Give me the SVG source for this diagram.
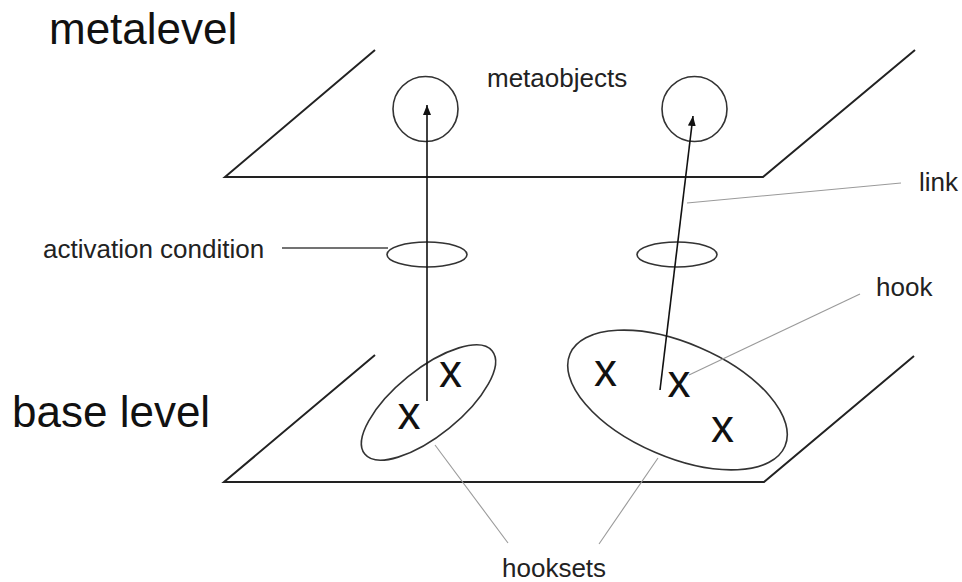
<svg xmlns="http://www.w3.org/2000/svg" width="962" height="582" viewBox="0 0 962 582">
  <defs>
    <marker id="arrow" markerWidth="10" markerHeight="8" refX="10" refY="4" orient="auto" markerUnits="userSpaceOnUse">
      <path d="M0,0 L10,4 L0,8 Z" fill="#111"/>
    </marker>
    <style>
      .plane { fill: none; stroke: #222; stroke-width: 2; stroke-linejoin: miter; }
      .shape { fill: none; stroke: #333; stroke-width: 1.6; }
      .link { fill: none; stroke: #111; stroke-width: 1.6; }
      .leader { fill: none; stroke: #9a9a9a; stroke-width: 1.1; }
      .leader-dark { fill: none; stroke: #444; stroke-width: 1.3; }
      .big { font-family: "Liberation Sans", Arial, sans-serif; font-size: 44px; fill: #111; }
      .label { font-family: "Liberation Sans", Arial, sans-serif; font-size: 26px; fill: #222; }
      .hookmark { font-family: "Liberation Sans", Arial, sans-serif; font-size: 46px; fill: #111; text-anchor: middle; }
    </style>
  </defs>
  <rect width="962" height="582" fill="#fff"/>

  <!-- level planes -->
  <g id="metalevel-plane">
    <polyline class="plane" points="375,50 225,177 763,177 915,50"/>
    <text class="big" x="49" y="44">metalevel</text>
  </g>
  <g id="base-plane">
    <polyline class="plane" points="375,355 224,482 764,482 914,356"/>
    <text class="big" x="12" y="427">base level</text>
  </g>

  <!-- metaobjects -->
  <g id="metaobject-left">
    <circle class="shape" cx="425.5" cy="109" r="32.5"/>
  </g>
  <g id="metaobject-right">
    <circle class="shape" cx="694.5" cy="109" r="32.5"/>
  </g>
  <g id="metaobjects-label">
    <text class="label" x="487" y="87">metaobjects</text>
  </g>

  <!-- activation conditions -->
  <g id="activation-left">
    <ellipse class="shape" cx="427" cy="254.5" rx="40" ry="12.5"/>
  </g>
  <g id="activation-right">
    <ellipse class="shape" cx="677" cy="254.5" rx="40" ry="12.5"/>
  </g>
  <g id="activation-label">
    <text class="label" x="43" y="258">activation condition</text>
  </g>

  <!-- hooksets with their hooks -->
  <g id="hookset-left">
    <ellipse class="shape" cx="428.5" cy="402.5" rx="82" ry="33" transform="rotate(-39 428.5 402.5)"/>
    <text class="hookmark" x="409" y="429">x</text>
    <text class="hookmark" x="450.5" y="387">x</text>
  </g>
  <g id="hookset-right">
    <ellipse class="shape" cx="677.5" cy="400" rx="117" ry="57" transform="rotate(23.3 677.5 400)"/>
    <text class="hookmark" x="605.5" y="386">x</text>
    <text class="hookmark" x="679" y="397">x</text>
    <text class="hookmark" x="722.5" y="442">x</text>
  </g>

  <!-- labels -->
  <g id="link-label"><text class="label" x="919" y="191">link</text></g>
  <g id="hook-label"><text class="label" x="876" y="296">hook</text></g>
  <g id="hooksets-label"><text class="label" x="502" y="577">hooksets</text></g>

  <!-- connectors -->
  <g id="connectors">
    <line class="link" x1="427" y1="401" x2="427" y2="105" marker-end="url(#arrow)"/>
    <line class="link" x1="660" y1="390" x2="693" y2="116" marker-end="url(#arrow)"/>
    <line class="leader-dark" x1="282" y1="248" x2="388" y2="248"/>
    <line class="leader" x1="687" y1="203" x2="901" y2="183"/>
    <line class="leader" x1="689" y1="375" x2="860" y2="294"/>
    <line class="leader" x1="435" y1="445" x2="508" y2="543"/>
    <line class="leader" x1="658" y1="458" x2="599" y2="544"/>
  </g>
</svg>
